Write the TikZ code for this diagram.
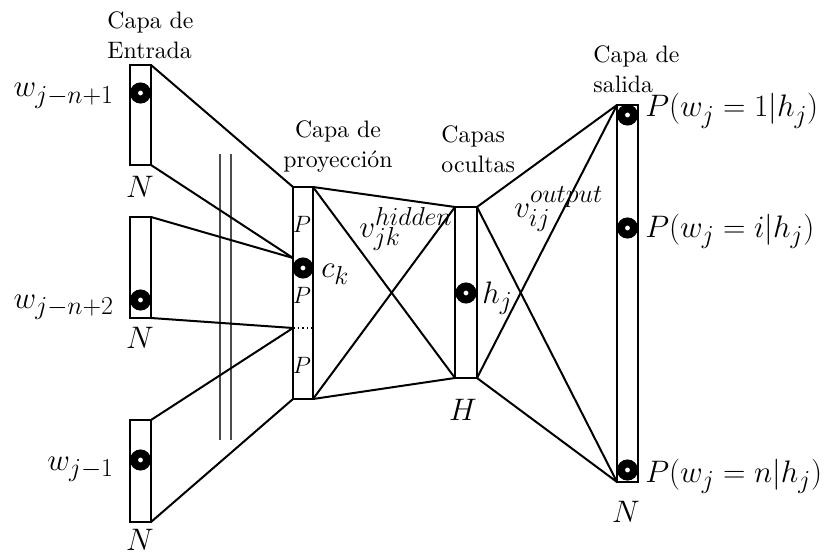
\documentclass[tikz,border=0pt]{standalone}
\usetikzlibrary{calc}
\begin{document}
\begin{tikzpicture}[x=1pt,y=-1pt,
  layerbox/.style={draw, line width=2.2pt, fill=white, inner sep=0pt, outer sep=0pt},
  conn/.style={line width=2pt, line cap=round},
  unit/.style={circle, draw=black, fill=white, line width=8pt, minimum size=13pt, inner sep=0pt},
  mlab/.style={font=\Huge, scale=1.25, inner sep=0pt},
  plab/.style={font=\Huge, scale=0.95, inner sep=0pt},
  ttl/.style={font=\fontsize{10}{12.6}\selectfont, scale=2.38, inner sep=0pt},
  seprule/.style={line width=1.3pt, draw=black!70}]
\useasboundingbox (0,0) rectangle (827,556);

% separator double line
\coordinate (s1a) at (220,154); \coordinate (s1b) at (220,440);
\coordinate (s2a) at (231,154); \coordinate (s2b) at (231,440);
\draw[seprule] (s1a) -- (s1b);
\draw[seprule] (s2a) -- (s2b);

% layer boxes (positions)
\path node[layerbox, minimum width=21pt, minimum height=100pt] (in1) at (140.5,115) {}
      node[layerbox, minimum width=21pt, minimum height=101pt] (in2) at (140.5,267.5) {}
      node[layerbox, minimum width=21pt, minimum height=102pt] (in3) at (140.5,471) {}
      node[layerbox, minimum width=20pt, minimum height=212pt] (proj) at (303,293) {}
      node[layerbox, minimum width=22pt, minimum height=171pt] (hid) at (466,292.5) {}
      node[layerbox, minimum width=21pt, minimum height=377pt] (out) at (627.5,293.5) {};

\coordinate (j1) at (293,258);
\coordinate (j2) at (293,328);

% connectors
\draw[conn] (in1.north east) -- (proj.north west);
\draw[conn] (in1.south east) -- (j1);
\draw[conn] (in2.north east) -- (j1);
\draw[conn] (in2.south east) -- (j2);
\draw[conn] (in3.north east) -- (j2);
\draw[conn] (in3.south east) -- (proj.south west);

\draw[conn] (proj.north east) -- (hid.north west);
\draw[conn] (proj.north east) -- (hid.south west);
\draw[conn] (proj.south east) -- (hid.north west);
\draw[conn] (proj.south east) -- (hid.south west);

\draw[conn] (hid.north east) -- (out.north west);
\draw[conn] (hid.north east) -- (out.south west);
\draw[conn] (hid.south east) -- (out.north west);
\draw[conn] (hid.south east) -- (out.south west);

% redraw box outlines on top
\foreach \b in {in1,in2,in3,proj,hid,out}
  \draw[line width=2.2pt] (\b.north west) rectangle (\b.south east);

\draw[line width=1.3pt, dash pattern=on 1.6pt off 3pt] (j2) -- (proj.east |- j2);

% units
\node[unit] (u1) at (140.5,93) {};
\node[unit] (u2) at (140.5,300) {};
\node[unit] (u3) at (140.5,460) {};
\node[unit] (uc) at (303,268) {};
\node[unit] (uh) at (466,293) {};
\node[unit] (uo1) at (627.5,115) {};
\node[unit] (uoi) at (627.5,228) {};
\node[unit] (uon) at (627.5,470) {};

% titles
\node[ttl, anchor=north west, align=left] (t1) at (107,11) {Capa de\\Entrada};
\node[ttl, anchor=north, align=center] (t2) at (338,120) {Capa de\\proyección};
\node[ttl, anchor=north west, align=left] (t3) at (441,125) {Capas\\ocultas};
\node[ttl, anchor=north west, align=left] (t4) at (593,45) {Capa de\\salida};

% math labels
\node[mlab, anchor=base east] (l1) at (114,97) {$w_{j-n+1}$};
\node[mlab, anchor=base east] (l2) at (114,308) {$w_{j-n+2}$};
\node[mlab, anchor=base east] (l3) at (114,470) {$w_{j-1}$};
\node[mlab, anchor=base] (n1) at (140,197) {$N$};
\node[mlab, anchor=base] (n2) at (140,348) {$N$};
\node[mlab, anchor=base] (n3) at (140,550) {$N$};
\node[mlab, anchor=base] (n4) at (626,522) {$N$};
\node[mlab, anchor=base] (hH) at (463,420) {$H$};
\node[plab, anchor=base] (p1) at (302,233) {$P$};
\node[plab, anchor=base] (p2) at (302,303) {$P$};
\node[plab, anchor=base] (p3) at (302,373) {$P$};
\node[mlab, anchor=base west] (ck) at (321,277) {$c_k$};
\node[mlab, anchor=base west] (hj) at (482,303) {$h_j$};
\node[mlab, anchor=base west] (vh) at (359,237) {$v_{jk}^{hidden}$};
\node[mlab, anchor=base west] (vo) at (514,218) {$v_{ij}^{output}$};
\node[mlab, anchor=base west] (o1) at (645,117) {$P(w_j=1|h_j)$};
\node[mlab, anchor=base west] (oi) at (645,237) {$P(w_j=i|h_j)$};
\node[mlab, anchor=base west] (on) at (645,482) {$P(w_j=n|h_j)$};
\end{tikzpicture}
\end{document}
